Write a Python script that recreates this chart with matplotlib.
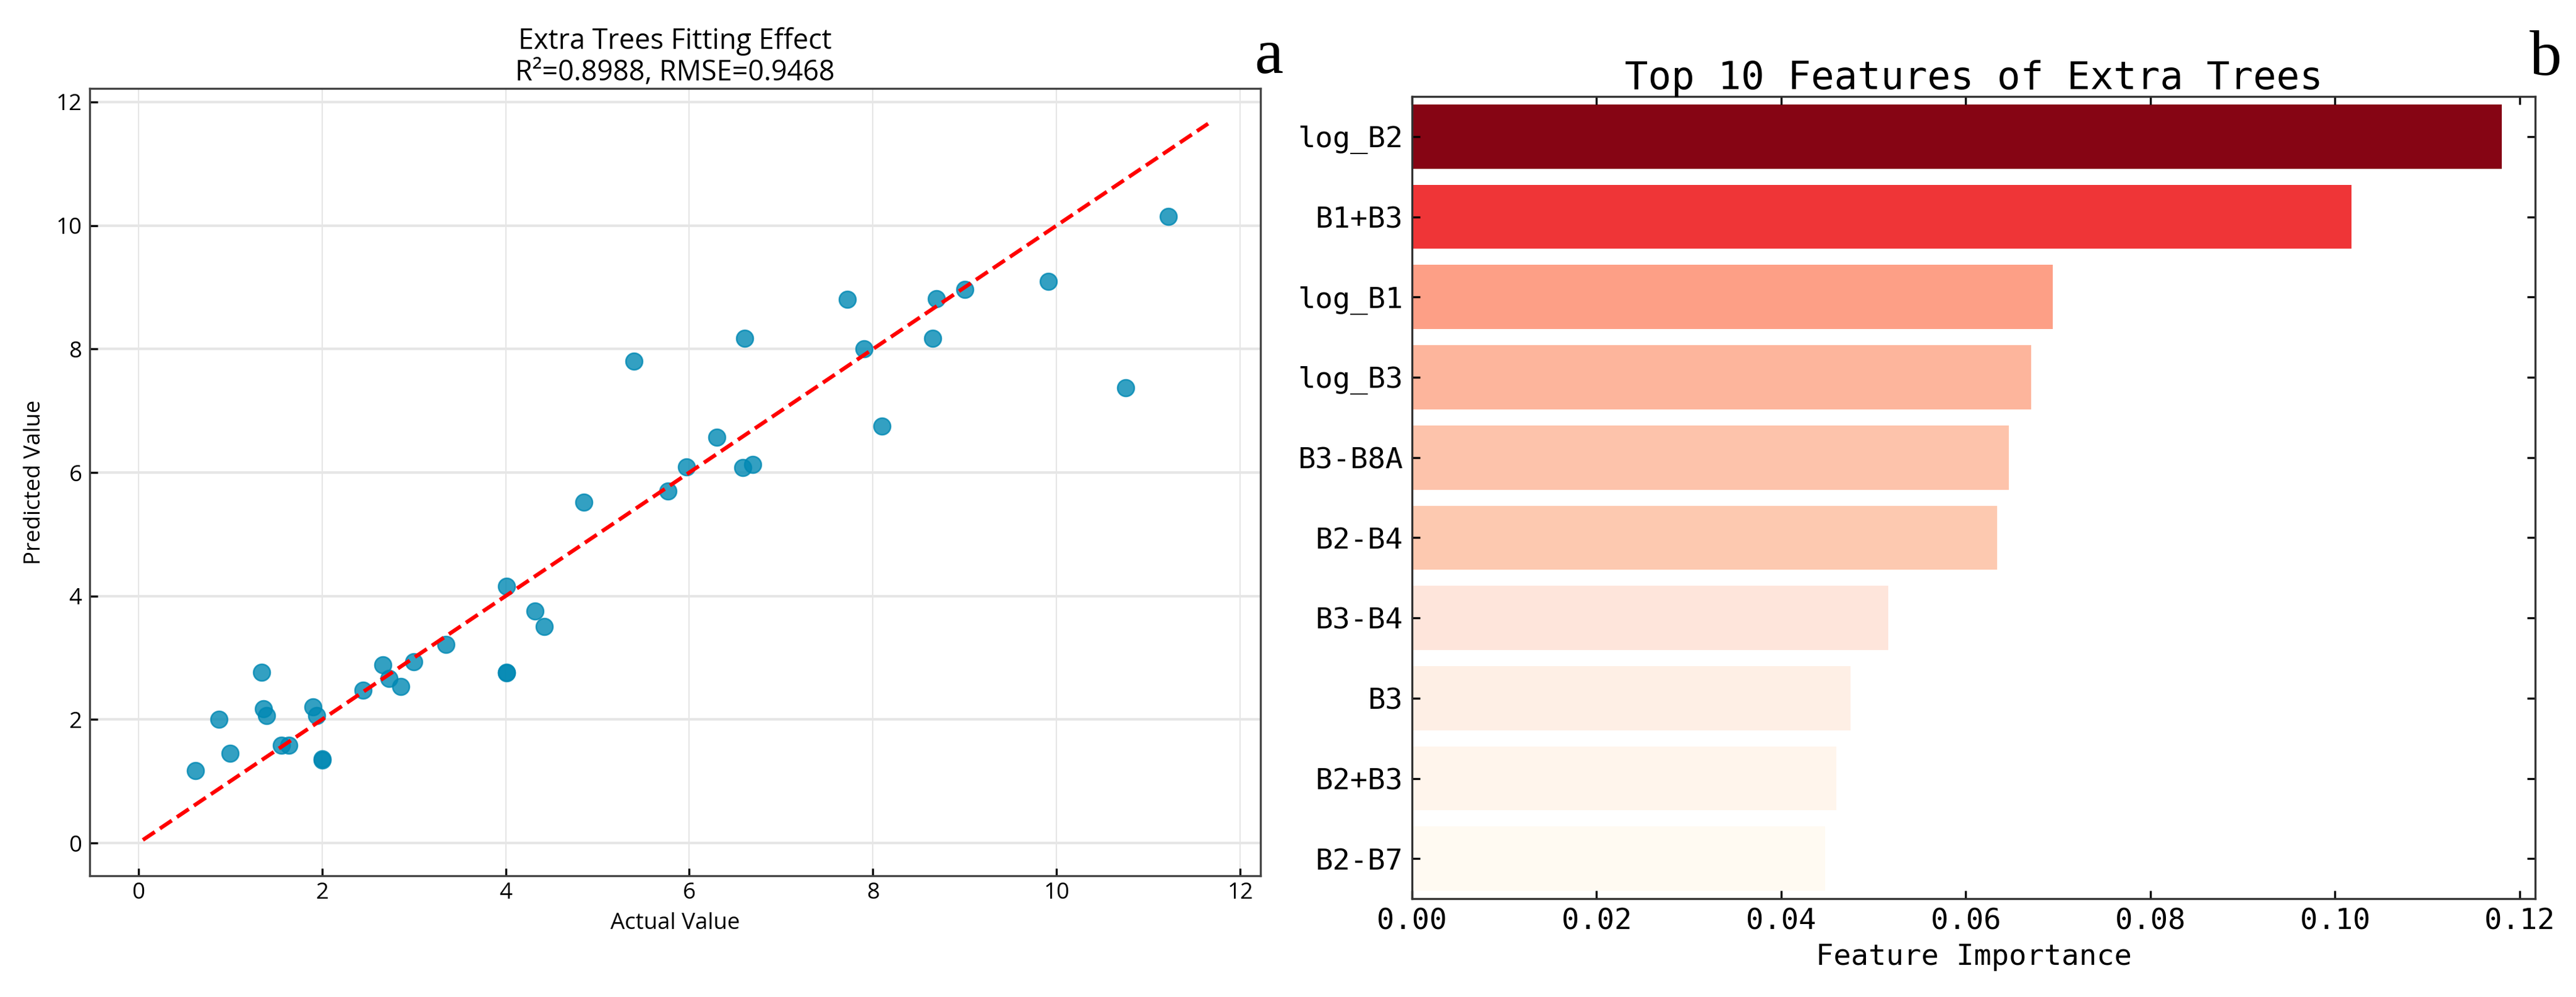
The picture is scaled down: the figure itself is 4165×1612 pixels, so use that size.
import numpy as np
import matplotlib
matplotlib.use("Agg")
import matplotlib.pyplot as plt
from matplotlib.ticker import FormatStrFormatter

plt.rcParams["font.family"] = "Open Sans"

# panel a: test set, actual vs predicted
actual = [0.62, 0.88, 1.00, 1.34, 1.36, 1.40, 1.56, 1.64, 1.90, 1.94,
          2.00, 2.00, 2.45, 2.66, 2.73, 2.86, 3.00, 3.35, 4.01, 4.01,
          4.01, 4.32, 4.42, 4.85, 5.40, 5.77, 5.97, 6.30, 6.58, 6.60,
          6.69, 7.72, 7.90, 8.10, 8.65, 8.69, 9.00, 9.91, 10.75, 11.22]
predicted = [1.17, 2.00, 1.45, 2.76, 2.17, 2.06, 1.58, 1.58, 2.20, 2.06,
             1.36, 1.34, 2.47, 2.89, 2.66, 2.53, 2.94, 3.22, 4.16, 2.76,
             2.75, 3.76, 3.51, 5.52, 7.80, 5.70, 6.09, 6.57, 6.08, 8.17,
             6.13, 8.80, 8.00, 6.75, 8.17, 8.81, 8.96, 9.09, 7.37, 10.15]
fit_range = [0.05, 11.65]
axis_ticks = [0, 2, 4, 6, 8, 10, 12]

# panel b: feature importance
features = ["log_B2", "B1+B3", "log_B1", "log_B3", "B3-B8A",
            "B2-B4", "B3-B4", "B3", "B2+B3", "B2-B7"]
importance = [0.1181, 0.1018, 0.0694, 0.0671, 0.0647,
              0.0634, 0.0516, 0.0475, 0.0460, 0.0448]
imp_ticks = [0.00, 0.02, 0.04, 0.06, 0.08, 0.10, 0.12]

bar_colors = ["#860514", "#ef3537", "#fd9f86", "#fdb59c", "#fdc3ab",
              "#fdc9b0", "#fee5db", "#feefe5", "#fff5ec", "#fffaf2"]

fig = plt.figure(figsize=(4165 / 300, 1612 / 300), dpi=300)

# ---- a ----
ax1 = fig.add_axes([0.0348, 0.1216, 0.4545, 0.7897])
ax1.scatter(actual, predicted, s=42, c="#0088b3", alpha=0.8,
            edgecolors="#0088b3", linewidths=0.6, zorder=3)
ax1.plot(fit_range, fit_range, "--", color="red", lw=1.5, zorder=4)
ax1.set_xlim(-0.53, 12.22)
ax1.set_ylim(-0.53, 12.22)
ax1.set_xticks(axis_ticks)
ax1.set_yticks(axis_ticks)
ax1.set_axisbelow(True)
ax1.xaxis.grid(True, color="#e6e6e6", lw=0.5)
ax1.yaxis.grid(True, color="#e6e6e6", lw=1.0)
for sp in ax1.spines.values():
    sp.set_color("#444444")
    sp.set_linewidth(0.8)
ax1.tick_params(direction="in", length=3, width=0.8, labelsize=8.8, pad=3)
ax1.tick_params(axis="x", pad=2.5)
ax1.set_xlabel("Actual Value", fontsize=8.8, labelpad=3)
ax1.set_ylabel("Predicted Value", fontsize=8.8, labelpad=4)
ax1.set_title("Extra Trees Fitting Effect\nR²=0.8988, RMSE=0.9468",
              fontsize=10.8, pad=3, linespacing=1.15)

# ---- b ----
mono = "DejaVu Sans Mono"
ax2 = fig.add_axes([0.5481, 0.0986, 0.4361, 0.8046])
ax2.barh(range(len(features)), importance, height=0.8, color=bar_colors)
ax2.set_ylim(len(features) - 0.5, -0.5)
ax2.set_xlim(0, 0.1217)
ax2.set_yticks(range(len(features)))
ax2.set_yticklabels(features)
ax2.set_xticks(imp_ticks)
ax2.xaxis.set_major_formatter(FormatStrFormatter("%.2f"))
for sp in ax2.spines.values():
    sp.set_color("#333333")
    sp.set_linewidth(0.8)
ax2.tick_params(direction="in", top=True, right=True, length=3.2,
                width=0.8, labelsize=11.3, pad=3.5)
plt.setp(ax2.get_xticklabels(), family=mono)
plt.setp(ax2.get_yticklabels(), family=mono)
ax2.set_xlabel("Feature Importance", fontsize=11.3, family=mono, labelpad=3)
ax2.set_title("Top 10 Features of Extra Trees", fontsize=15, family=mono, pad=3)

# panel letters
fig.text(0.487, 0.927, "a", fontsize=25, family="Liberation Serif", va="baseline")
fig.text(0.982, 0.925, "b", fontsize=25, family="Liberation Serif", va="baseline")

fig.savefig("out.png", dpi=300)
